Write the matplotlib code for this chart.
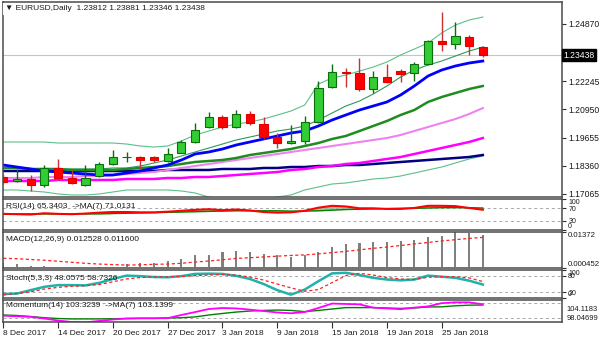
import numpy as np
import matplotlib
matplotlib.use('Agg')
import matplotlib.pyplot as plt
from matplotlib.ticker import FormatStrFormatter

plt.rcParams['font.family'] = ['Liberation Sans', 'DejaVu Sans']

# velas diárias EURUSD (abertura, máxima, mínima, fechamento)
open_ = [1.1785, 1.1766, 1.1775, 1.1748, 1.1826, 1.1780, 1.1750, 1.1789, 1.1844, 1.1875,
         1.1877, 1.1876, 1.1858, 1.1896, 1.1945, 1.2014, 1.2060, 1.2014, 1.2074, 1.2028,
         1.1968, 1.1941, 1.1950, 1.2037, 1.2196, 1.2267, 1.2262, 1.2189, 1.2244, 1.2271,
         1.2262, 1.2303, 1.2409, 1.2395, 1.2427, 1.23812]
high = [1.1798, 1.1821, 1.1794, 1.1840, 1.1867, 1.1817, 1.1840, 1.1853, 1.1909, 1.1899,
        1.1881, 1.1881, 1.1918, 1.1954, 1.2032, 1.2083, 1.2069, 1.2092, 1.2088, 1.2060,
        1.1987, 1.2023, 1.2065, 1.2225, 1.2303, 1.2285, 1.2331, 1.2271, 1.2303, 1.2280,
        1.2313, 1.2413, 1.2542, 1.2496, 1.2437, 1.23881]
low = [1.1752, 1.1762, 1.1720, 1.1739, 1.1771, 1.1752, 1.1743, 1.1784, 1.1840, 1.1853,
       1.1821, 1.1853, 1.1853, 1.1895, 1.1941, 1.2009, 1.2005, 1.2009, 1.2023, 1.1959,
       1.1918, 1.1936, 1.1936, 1.2032, 1.2193, 1.2198, 1.2179, 1.2170, 1.2216, 1.2222,
       1.2225, 1.2299, 1.2363, 1.2372, 1.2345, 1.23346]
close = [1.1762, 1.1775, 1.1748, 1.1826, 1.1780, 1.1757, 1.1780, 1.1844, 1.1876, 1.1877,
         1.1863, 1.1863, 1.1890, 1.1945, 1.2000, 1.2060, 1.2014, 1.2074, 1.2032, 1.1968,
         1.1941, 1.1950, 1.2037, 1.2193, 1.2267, 1.2262, 1.2189, 1.2244, 1.2221, 1.2257,
         1.2303, 1.2409, 1.2395, 1.2432, 1.2386, 1.23438]

# médias e bandas do gráfico principal
ma_blue = [1.18396, 1.18304, 1.18213, 1.18121, 1.18075, 1.18029, 1.17983, 1.17937, 1.17937, 1.18029,
           1.18121, 1.18259, 1.18396, 1.18626, 1.18901, 1.18993, 1.19131, 1.19315, 1.19452, 1.19590,
           1.19728, 1.19865, 1.19957, 1.20187, 1.20462, 1.20692, 1.20921, 1.21105, 1.21289, 1.21610,
           1.22023, 1.22481, 1.22757, 1.22942, 1.23078, 1.23170]
ma_green = [1.18259, 1.18259, 1.18213, 1.18213, 1.18213, 1.18167, 1.18167, 1.18167, 1.18167, 1.18213,
            1.18259, 1.18304, 1.18350, 1.18442, 1.18534, 1.18580, 1.18626, 1.18717, 1.18855, 1.18947,
            1.19039, 1.19131, 1.19268, 1.19406, 1.19590, 1.19728, 1.19957, 1.20187, 1.20416, 1.20692,
            1.20921, 1.21289, 1.21518, 1.21701, 1.21885, 1.22023]
ma_violet = [1.17799, 1.17799, 1.17799, 1.17845, 1.17845, 1.17845, 1.17891, 1.17891, 1.17937, 1.17983,
             1.18029, 1.18075, 1.18167, 1.18259, 1.18350, 1.18442, 1.18534, 1.18626, 1.18717, 1.18809,
             1.18901, 1.18993, 1.19085, 1.19176, 1.19268, 1.19360, 1.19452, 1.19544, 1.19635, 1.19773,
             1.19957, 1.20140, 1.20324, 1.20507, 1.20737, 1.21010]
ma_magenta = [1.17662, 1.17662, 1.17662, 1.17662, 1.17708, 1.17708, 1.17708, 1.17708, 1.17708, 1.17754,
              1.17754, 1.17754, 1.17799, 1.17799, 1.17845, 1.17845, 1.17891, 1.17937, 1.17983, 1.18029,
              1.18075, 1.18167, 1.18213, 1.18304, 1.18350, 1.18442, 1.18488, 1.18580, 1.18672, 1.18763,
              1.18901, 1.19039, 1.19176, 1.19314, 1.19452, 1.19635]
ma_navy = [1.18121, 1.18121, 1.18121, 1.18121, 1.18121, 1.18121, 1.18121, 1.18121, 1.18121, 1.18121,
           1.18121, 1.18121, 1.18167, 1.18167, 1.18167, 1.18167, 1.18213, 1.18213, 1.18213, 1.18259,
           1.18259, 1.18304, 1.18304, 1.18350, 1.18350, 1.18396, 1.18396, 1.18442, 1.18488, 1.18534,
           1.18580, 1.18626, 1.18672, 1.18717, 1.18763, 1.18855]
bb_upper = [1.19452, 1.19452, 1.19452, 1.19452, 1.19406, 1.19406, 1.19406, 1.19406, 1.19406, 1.19360,
            1.19268, 1.19222, 1.19268, 1.19498, 1.19773, 1.19957, 1.20140, 1.20278, 1.20370, 1.20507,
            1.20691, 1.20875, 1.21150, 1.22115, 1.22389, 1.22527, 1.22710, 1.22894, 1.23124, 1.23446,
            1.23720, 1.23996, 1.24460, 1.24822, 1.25052, 1.25190]
bb_middle = [1.18259, 1.18259, 1.18213, 1.18213, 1.18213, 1.18213, 1.18213, 1.18213, 1.18259, 1.18259,
             1.18350, 1.18488, 1.18626, 1.18809, 1.18993, 1.19176, 1.19360, 1.19544, 1.19681, 1.19819,
             1.19957, 1.20049, 1.20187, 1.20462, 1.20783, 1.21104, 1.21334, 1.21655, 1.22023, 1.22436,
             1.22757, 1.22986, 1.23170, 1.23400, 1.23629, 1.23812]
bb_lower = [1.17249, 1.17249, 1.17203, 1.17157, 1.17065, 1.17019, 1.17019, 1.17065, 1.17157, 1.17249,
            1.17249, 1.17249, 1.17249, 1.17203, 1.17111, 1.16927, 1.16835, 1.16789, 1.16789, 1.16835,
            1.16927, 1.17019, 1.17249, 1.17386, 1.17524, 1.17570, 1.17662, 1.17754, 1.17799, 1.17891,
            1.18029, 1.18167, 1.18304, 1.18488, 1.18672, 1.18809]

# RSI(14) e sua média de 7
rsi = [52, 51, 50, 54, 52, 51, 53, 56, 58, 58, 57, 57, 59, 62, 65, 67, 64, 66, 63, 58,
       56, 57, 62, 72, 78, 76, 70, 70, 68, 68, 71, 78, 78, 77, 71, 65.3403]
rsi_ma = [52, 52, 52, 52, 52, 52, 52, 52, 53, 54, 55, 56, 57, 58, 59, 60, 61, 62, 62, 62,
          62, 61, 61, 62, 64, 66, 67, 68, 69, 70, 70, 71, 72, 72, 72, 71.0131]

# MACD(12,26,9): histograma e linha de sinal
macd = [0.0015, 0.00108, 0.00038, 0.00038, 0.0001, 0.0001, -0.00004, -0.000452, -0.0002, 0.00108,
        0.00133, 0.00133, 0.00246, 0.00317, 0.00454, 0.00483, 0.00592, 0.00621, 0.00592, 0.00525,
        0.00454, 0.00383, 0.00483, 0.00592, 0.00800, 0.00900, 0.00942, 0.00967, 0.00967, 0.01009,
        0.01051, 0.01175, 0.01217, 0.01372, 0.01350, 0.012528]
macd_signal = [0.0034, 0.0032, 0.0029, 0.0026, 0.0022, 0.0018, 0.0014, 0.0011, 0.0009, 0.0007,
               0.0008, 0.0010, 0.0011, 0.0014, 0.0019, 0.0023, 0.0028, 0.0033, 0.0036, 0.0039,
               0.0042, 0.0045, 0.0047, 0.0051, 0.0056, 0.0061, 0.0067, 0.0073, 0.0078, 0.0084,
               0.0090, 0.0096, 0.0102, 0.0107, 0.0112, 0.0116]

# Estocástico(5,3,3)
stoch_k = [14, 16, 28, 40, 46, 46, 45, 54, 68, 80, 78, 75, 74, 78, 86, 87, 86, 79, 68, 50,
           28, 12, 30, 60, 88, 90, 82, 72, 66, 63, 66, 80, 76, 72, 62, 48.0575]
stoch_d = [11, 16, 22, 32, 38, 42, 44, 48, 58, 68, 73, 75, 76, 77, 80, 82, 84, 82, 75, 64,
           50, 36, 24, 30, 55, 80, 88, 82, 73, 68, 66, 74, 76, 76, 72, 58.7326]

# Momentum(14) e média de 7
mom = [100.5, 100.35, 100.2, 99.8, 99.3, 98.94, 98.86, 99.2, 99.55, 99.8,
       99.85, 99.85, 99.9, 100.67, 101.4, 102.15, 102.4, 102.3, 102.0, 101.65,
       101.3, 101.1, 101.4, 102.4, 103.5, 103.4, 103.3, 102.5, 102.3, 102.1,
       102.5, 102.8, 103.6, 103.8, 103.8, 103.3239]
mom_ma = [100.67, 100.55, 100.3, 100.0, 99.8, 99.7, 99.7, 99.7, 99.75, 99.8,
          99.85, 99.85, 99.93, 100.0, 100.2, 100.67, 101.05, 101.4, 101.65, 101.8,
          101.9, 101.8, 101.5, 101.8, 102.15, 102.5, 102.5, 102.5, 102.4, 102.3,
          102.4, 102.65, 102.7, 102.95, 103.1, 103.1399]

# rótulos de data e níveis do eixo de preço
date_labels = ['8 Dec 2017', '14 Dec 2017', '20 Dec 2017', '27 Dec 2017', '3 Jan 2018',
               '9 Jan 2018', '15 Jan 2018', '19 Jan 2018', '25 Jan 2018']
date_index = [0, 4, 8, 12, 16, 20, 24, 28, 32]
price_ticks = [1.24870, 1.22245, 1.20950, 1.19655, 1.18360, 1.17065]

x = np.arange(len(close))
o = np.array(open_)
c = np.array(close)

fig = plt.figure(figsize=(6, 3.43), dpi=100)
fig.patch.set_facecolor('white')

TXT = '#1a1a1a'
GRID = '#a8a8a8'


# cria um painel (topo e base em pixels) com o eixo de valores à direita
def painel(top, bottom, size=6.2):
    ax = fig.add_axes([3 / 600, 1 - bottom / 343, 559 / 600, (bottom - top) / 343])
    ax.set_xlim(-0.02, 40.78)
    ax.yaxis.tick_right()
    ax.tick_params(axis='y', labelsize=size, length=3, width=0.8, pad=1.5,
                   color='#303030', labelcolor=TXT)
    ax.tick_params(axis='x', bottom=False, labelbottom=False)
    for s in ax.spines.values():
        s.set_color('#4a4a4a')
        s.set_linewidth(1.1)
    return ax


# primeiro rótulo fica abaixo do topo, último acima da base (como no MT4)
def prende_rotulos(ax):
    labels = ax.get_yticklabels()
    labels[0].set_va('top')
    labels[-1].set_va('bottom')


# ---- gráfico principal ----
ax = painel(2, 197)
ax.set_ylim(1.16927, 1.25880)
ax.set_yticks(price_ticks)
ax.yaxis.set_major_formatter(FormatStrFormatter('%.5f'))

ax.axhline(close[-1], color='#c4c4c4', lw=0.8, zorder=1)

ax.plot(x, bb_upper, color='#5cbf8a', lw=0.8, zorder=2)
ax.plot(x, bb_lower, color='#5cbf8a', lw=0.8, zorder=2)
ax.plot(x, bb_middle, color='#2e9b57', lw=0.8, zorder=2)
ax.plot(x, ma_navy, color='#000080', lw=1.8, zorder=2)
ax.plot(x, ma_magenta, color='#ff00ff', lw=1.8, zorder=2)
ax.plot(x, ma_violet, color='#ee82ee', lw=1.5, zorder=2)
ax.plot(x, ma_green, color='#1e8c1e', lw=1.8, zorder=2)
ax.plot(x, ma_blue, color='#0000ff', lw=2.0, zorder=2)

up = c >= o
wick_col = np.where(up, '#0a6e0a', '#c83232')
body_col = np.where(up, '#32cd32', '#ff0000')
edge_col = np.where(up, '#0a6e0a', '#e00000')
ax.vlines(x, low, high, colors=wick_col, lw=1.0, zorder=3)
ax.bar(x, np.maximum(np.abs(c - o), 0.00012), bottom=np.minimum(o, c), width=0.6,
       color=body_col, edgecolor=edge_col, linewidth=0.8, zorder=4)

# preço atual em destaque na escala
ax.text(1.003, close[-1], '%.5f' % close[-1], transform=ax.get_yaxis_transform(),
        fontsize=6.2, color='white', va='center', ha='left',
        bbox=dict(boxstyle='square,pad=0.15', fc='black', ec='black'))

fig.text(5 / 600, 1 - 9 / 343, '\u25bc EURUSD,Daily  1.23812 1.23881 1.23346 1.23438',
         fontsize=6, color=TXT, va='center', ha='left',
         bbox=dict(boxstyle='square,pad=0.25', fc='white', ec='none'))

# ---- RSI ----
ax_rsi = painel(199, 230, 5.0)
ax_rsi.set_ylim(0, 100)
ax_rsi.set_yticks([100, 70, 30, 0])
prende_rotulos(ax_rsi)
for lvl in (70, 30):
    ax_rsi.axhline(lvl, color=GRID, lw=0.7, ls=(0, (3, 3)))
ax_rsi.fill_between(x, rsi, rsi_ma, color='#90d890', lw=0)
ax_rsi.plot(x, rsi_ma, color='#008000', lw=1.0)
ax_rsi.plot(x, rsi, color='#ff0000', lw=1.5)
ax_rsi.text(0.005, 0.77, 'RSI(14) 65.3403  ->MA(7) 71.0131', transform=ax_rsi.transAxes,
            fontsize=6, color=TXT, va='center')

# ---- MACD ----
ax_macd = painel(232, 268, 5.6)
ax_macd.set_ylim(-0.000452, 0.01372)
ax_macd.set_yticks([0.01372, -0.000452])
ax_macd.set_yticklabels(['0.01372', '0.000452'])
prende_rotulos(ax_macd)
ax_macd.bar(x, macd, width=0.15, color='#808080')
ax_macd.plot(x, macd_signal, color='#ff2020', lw=0.9, ls=(0, (2.5, 2)))
ax_macd.text(0.005, 0.78, 'MACD(12,26,9) 0.012528 0.011600', transform=ax_macd.transAxes,
             fontsize=6, color=TXT, va='center')

# ---- Estocástico ----
ax_st = painel(270, 298, 5.0)
ax_st.set_ylim(0, 100)
ax_st.set_yticks([100, 80, 20, 0])
prende_rotulos(ax_st)
for lvl in (80, 20):
    ax_st.axhline(lvl, color=GRID, lw=0.7, ls=(0, (3, 3)))
ax_st.plot(x, stoch_k, color='#20b2aa', lw=1.8)
ax_st.plot(x, stoch_d, color='#ff2020', lw=0.9, ls=(0, (2.5, 2)))
ax_st.text(0.005, 0.71, 'Stoch(5,3,3) 48.0575 58.7326', transform=ax_st.transAxes,
           fontsize=6, color=TXT, va='center')

# ---- Momentum ----
ax_mom = painel(300, 322, 5.4)
ax_mom.set_ylim(98.94, 104.38)
ax_mom.set_yticks([])
ax_mom.axhline(100, color=GRID, lw=0.7, ls=(0, (3, 3)))
ax_mom.axhline(103.7, color=GRID, lw=0.7, ls=(0, (3, 3)))
ax_mom.plot(x, mom_ma, color='#008000', lw=1.0)
ax_mom.plot(x, mom, color='#ff00ff', lw=1.3)
ax_mom.text(0.005, 0.73, 'Momentum(14) 103.3239  ->MA(7) 103.1399', transform=ax_mom.transAxes,
            fontsize=6, color=TXT, va='center')
# máximo e mínimo da janela escritos na escala
ax_mom.text(1.008, 0.59, '104.1183', transform=ax_mom.transAxes,
            fontsize=5.4, color=TXT, va='center', ha='left')
ax_mom.text(1.008, 0.14, '98.04699', transform=ax_mom.transAxes,
            fontsize=5.4, color=TXT, va='center', ha='left')

# datas no rodapé
ax_mom.tick_params(axis='x', bottom=True, labelbottom=True, length=4, width=0.8,
                   color='#303030', labelsize=6, labelcolor=TXT, pad=2)
ax_mom.set_xticks(date_index)
ax_mom.set_xticklabels(date_labels, ha='left')

fig.savefig('out.png', dpi=100)
